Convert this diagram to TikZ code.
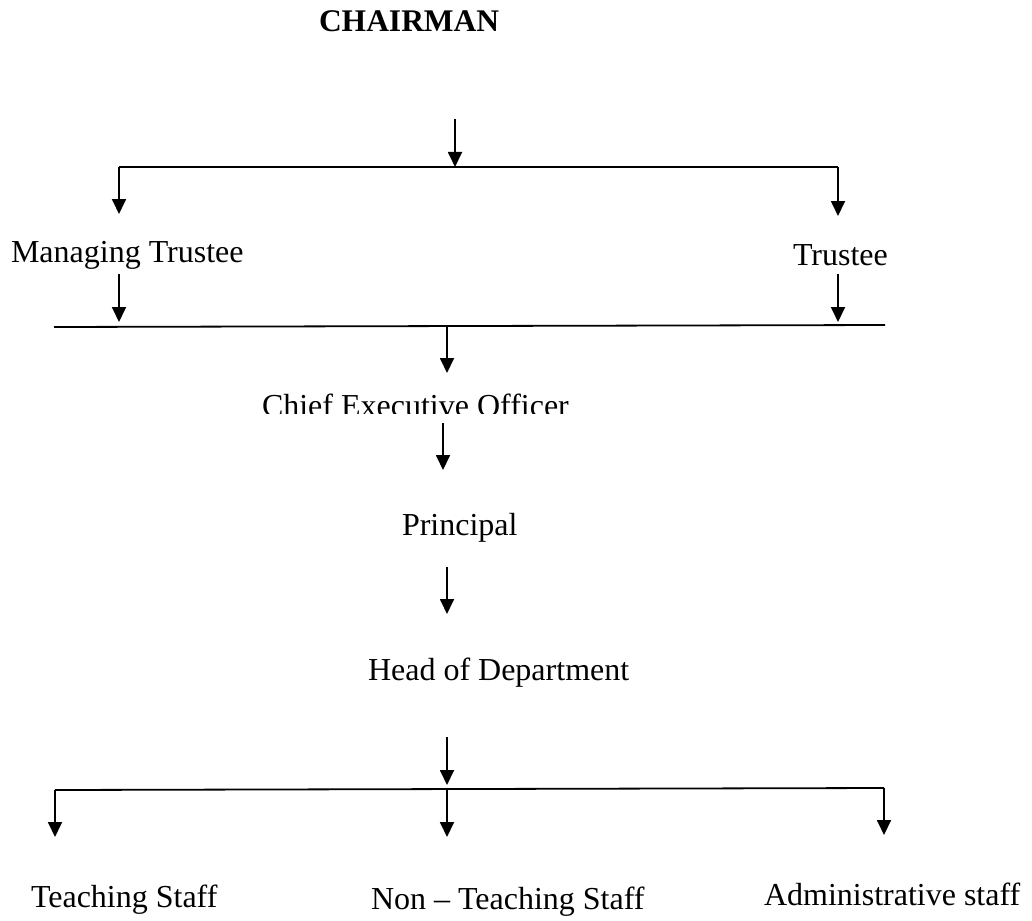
\documentclass[tikz,border=0pt]{standalone}
\usepackage{fontspec}
\setmainfont{Liberation Serif}
\usetikzlibrary{arrows.meta}
\tikzset{
  lbl/.style={anchor=base west, inner sep=0pt, outer sep=0pt, font=\fontsize{32}{38}\selectfont},
  ttl/.style={anchor=base west, inner sep=0pt, outer sep=0pt, font=\fontsize{31.5}{38}\selectfont\bfseries},
  conn/.style={line width=1.8pt, -{Triangle[length=15pt,width=14pt]}},
  bar/.style={line width=1.8pt}
}
\begin{document}
\begin{tikzpicture}[x=1pt,y=-1pt]
\useasboundingbox (0,0) rectangle (1032,920);
% texts
\node[ttl] (chair) at (319,32) {CHAIRMAN};
\node[lbl] (mt) at (11,262) {Managing Trustee};
\node[lbl] (tr) at (793,265) {Trustee};
\begin{scope}
  \clip (0,380) rectangle (1032,413.3);
  \node[lbl] (ceo) at (262,416) {Chief Executive Officer};
\end{scope}
\node[lbl] (pr) at (402,535) {Principal};
\node[lbl] (hod) at (368,680) {Head of Department};
\node[lbl] (ts) at (31,907) {Teaching Staff};
\node[lbl] (nts) at (371,909) {Non -- Teaching Staff};
\node[lbl] (as) at (764,905) {Administrative staff};
% coordinates
\coordinate (a0) at (455,119);
\coordinate (j0) at (455,167);
\coordinate (bl) at (119,167);
\coordinate (br) at (838,167);
\coordinate (mtin) at (119,214);
\coordinate (trin) at (838,216);
\coordinate (mtout) at (119,274);
\coordinate (trout) at (838,274);
\coordinate (m1) at (119,322);
\coordinate (m2) at (838,322);
\coordinate (l1) at (54,327);
\coordinate (l2) at (885,325);
\coordinate (j1) at (447,327);
\coordinate (ceoin) at (447,373);
\coordinate (ceoout) at (443,423);
\coordinate (prin) at (443,470);
\coordinate (prout) at (447,567);
\coordinate (hodin) at (447,614);
\coordinate (hodout) at (447,737);
\coordinate (j2) at (447,785);
\coordinate (b1) at (55,790);
\coordinate (b2) at (884,788);
\coordinate (jm) at (447,790);
\coordinate (tsin) at (55,837);
\coordinate (ntsin) at (447,837);
\coordinate (asin) at (884,835);
% connectors
\draw[conn] (a0) -- (j0);
\draw[bar] (bl) -- (br);
\draw[conn] (bl) -- (mtin);
\draw[conn] (br) -- (trin);
\draw[conn] (mtout) -- (m1);
\draw[conn] (trout) -- (m2);
\draw[bar] (l1) -- (l2);
\draw[conn] (j1) -- (ceoin);
\draw[conn] (ceoout) -- (prin);
\draw[conn] (prout) -- (hodin);
\draw[conn] (hodout) -- (j2);
\draw[bar] (b1) -- (b2);
\draw[conn] (b1) -- (tsin);
\draw[conn] (jm) -- (ntsin);
\draw[conn] (b2) -- (asin);
\end{tikzpicture}
\end{document}
